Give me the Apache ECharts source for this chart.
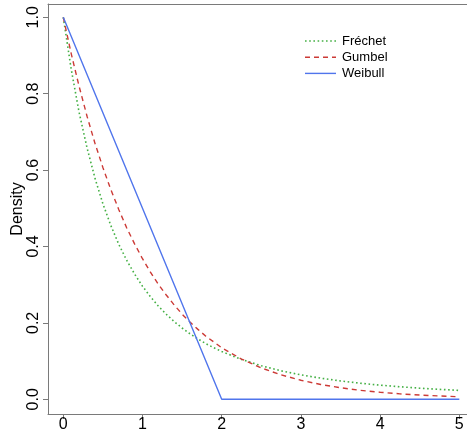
<!DOCTYPE html>
<html>
<head>
<meta charset="utf-8">
<script src="https://cdn.jsdelivr.net/npm/echarts@6/dist/echarts.min.js"></script>
<style>html,body{margin:0;padding:0;background:#fff}#c{width:467px;height:435px}</style>
</head>
<body>
<div id="c"></div>
<script>
var xTicks = [0, 1, 2, 3, 4, 5];
var yTicks = [0, 0.2, 0.4, 0.6, 0.8, 1.0];
var seriesNames = ['Fréchet', 'Gumbel', 'Weibull'];

var frechetX = [0,0.1,0.2,0.3,0.4,0.5,0.6,0.7,0.8,0.9,1.0,1.1,1.2,1.3,1.4,1.5,1.6,1.7,1.8,1.9,2.0,2.25,2.5,2.75,3.0,3.25,3.5,3.75,4.0,4.25,4.5,4.75,5.0];
var frechetY = [1,0.864,0.751,0.658,0.579,0.512,0.455,0.406,0.364,0.328,0.296,0.2685,0.244,0.2226,0.2035,0.1866,0.1715,0.158,0.1458,0.1349,0.125,0.1042,0.0878,0.0746,0.064,0.0553,0.0481,0.0421,0.037,0.0328,0.0291,0.026,0.0233];

var gumbelX = [0,0.1,0.2,0.3,0.4,0.5,0.6,0.7,0.8,0.9,1.0,1.1,1.2,1.3,1.4,1.5,1.6,1.7,1.8,1.9,2.0,2.25,2.5,2.75,3.0,3.25,3.5,3.75,4.0,4.25,4.5,4.75,5.0];
var gumbelY = [1,0.905,0.819,0.741,0.670,0.607,0.549,0.497,0.449,0.407,0.368,0.333,0.301,0.273,0.247,0.223,0.202,0.183,0.165,0.150,0.135,0.1054,0.0821,0.0639,0.0498,0.0388,0.0302,0.0235,0.0183,0.0143,0.0111,0.0087,0.0067];

var weibullX = [0, 2, 5];
var weibullY = [1, 0, 0];

function pairs(xs, ys) { return xs.map(function (x, i) { return [x, ys[i]]; }); }

var FONT = 'Liberation Sans, Arial, Helvetica, sans-serif';
var AXIS = '#7a7a7a';
var COLORS = ['#45b045', '#cc3a36', '#5075ec'];
var DASHES = [[1.6, 2.6], [5, 4], 'solid'];
var WIDTHS = [1.6, 1.4, 1.4];

var legendGraphics = [];
seriesNames.forEach(function (n, i) {
  var y = 41 + i * 16.2;
  legendGraphics.push({
    type: 'line', shape: {x1: 305, y1: y, x2: 336, y2: y},
    style: {stroke: COLORS[i], lineWidth: WIDTHS[i], lineDash: DASHES[i] === 'solid' ? null : DASHES[i]}
  });
  legendGraphics.push({
    type: 'text', x: 342, y: y,
    style: {text: n, fill: '#000', font: '13px ' + FONT, textVerticalAlign: 'middle', textAlign: 'left'}
  });
});

var chart = echarts.init(document.getElementById('c'), null, {renderer: 'canvas'});
chart.setOption({
  animation: false,
  backgroundColor: '#ffffff',
  grid: {left: 48, right: 0, top: 4, bottom: 21, containLabel: false, outerBoundsMode: 'none'},
  graphic: legendGraphics,
  xAxis: [{
    type: 'value', min: -0.193, max: 5.097,
    splitLine: {show: false},
    axisLine: {show: true, onZero: false, lineStyle: {color: AXIS, width: 1}},
    axisTick: {show: true, length: 5, lineStyle: {color: AXIS}, customValues: xTicks},
    axisLabel: {show: true, margin: 3, fontSize: 16, fontFamily: FONT, color: '#000', customValues: xTicks,
      formatter: function (v) { return String(v); }}
  }, {
    type: 'value', position: 'top', min: -0.193, max: 5.097,
    splitLine: {show: false},
    axisLine: {show: true, onZero: false, lineStyle: {color: AXIS, width: 1}},
    axisTick: {show: false}, axisLabel: {show: false}
  }],
  yAxis: {
    type: 'value', min: -0.0385, max: 1.0348,
    name: 'Density', nameLocation: 'middle', nameGap: 22, nameMoveOverlap: false,
    nameTextStyle: {fontFamily: FONT, fontSize: 16, color: '#000'},
    splitLine: {show: false},
    axisLine: {show: true, onZero: false, lineStyle: {color: AXIS, width: 1}},
    axisTick: {show: true, length: 5, lineStyle: {color: AXIS}, customValues: yTicks},
    axisLabel: {show: true, rotate: 90, margin: 6, fontSize: 16, fontFamily: FONT, color: '#000', customValues: yTicks,
      formatter: function (v) { return v.toFixed(1); }}
  },
  series: [{
    name: seriesNames[0], type: 'line', symbol: 'none',
    data: pairs(frechetX, frechetY),
    lineStyle: {color: COLORS[0], width: WIDTHS[0], type: DASHES[0]}
  }, {
    name: seriesNames[1], type: 'line', symbol: 'none',
    data: pairs(gumbelX, gumbelY),
    lineStyle: {color: COLORS[1], width: WIDTHS[1], type: DASHES[1]}
  }, {
    name: seriesNames[2], type: 'line', symbol: 'none',
    data: pairs(weibullX, weibullY),
    lineStyle: {color: COLORS[2], width: WIDTHS[2], type: DASHES[2]}
  }]
});
</script>
</body>
</html>
